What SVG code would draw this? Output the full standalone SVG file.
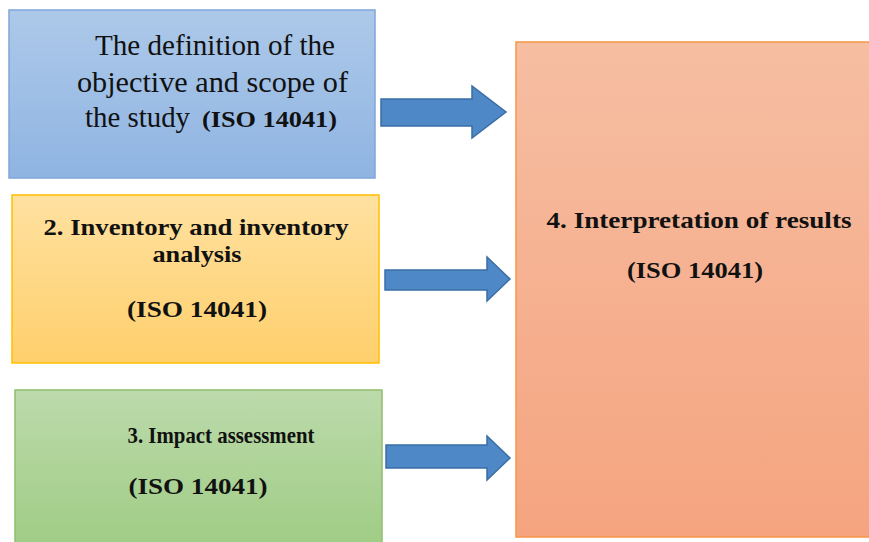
<svg xmlns="http://www.w3.org/2000/svg" width="869" height="542" viewBox="0 0 869 542">
<style>
.r{font-size:29px}
.b{font-size:24px;font-weight:bold}
.arrow{fill:#4f88c6;stroke:#3a6ea5;stroke-width:1.5}
</style>
<defs>
<linearGradient id="gBlue" x1="0" y1="0" x2="0" y2="1"><stop offset="0" stop-color="#adc9e9"/><stop offset="1" stop-color="#8fb4e2"/></linearGradient>
<linearGradient id="gYel" x1="0" y1="0" x2="0" y2="1"><stop offset="0" stop-color="#ffe1a0"/><stop offset="1" stop-color="#ffcf6c"/></linearGradient>
<linearGradient id="gGrn" x1="0" y1="0" x2="0" y2="1"><stop offset="0" stop-color="#bcdaab"/><stop offset="1" stop-color="#9fcc84"/></linearGradient>
<linearGradient id="gOr" x1="0" y1="0" x2="0" y2="1"><stop offset="0" stop-color="#f6bea2"/><stop offset="1" stop-color="#f5a47f"/></linearGradient>
</defs>
<rect width="869" height="542" fill="#fff"/>
<g font-family="Liberation Serif, Times New Roman, serif" fill="#111" text-anchor="middle">
<g id="node1">
<rect x="9" y="10" width="366" height="168" fill="url(#gBlue)" stroke="#7fa6d8" stroke-width="1.5"/>
<text class="r" x="215" y="55" textLength="240" lengthAdjust="spacingAndGlyphs">The definition of the</text>
<text class="r" x="212.5" y="92" textLength="271" lengthAdjust="spacingAndGlyphs">objective and scope of</text>
<text class="r" x="85" y="127" text-anchor="start" textLength="105" lengthAdjust="spacingAndGlyphs">the study</text>
<text class="b" x="202" y="127" text-anchor="start" textLength="135" lengthAdjust="spacingAndGlyphs">(ISO 14041)</text>
</g>
<g id="node2">
<rect x="12" y="195" width="367" height="168" fill="url(#gYel)" stroke="#ffc000" stroke-width="1.5"/>
<text class="b" x="196" y="235" textLength="305" lengthAdjust="spacingAndGlyphs">2. Inventory and inventory</text>
<text class="b" x="197" y="262" textLength="89" lengthAdjust="spacingAndGlyphs">analysis</text>
<text class="b" x="197" y="317" textLength="140" lengthAdjust="spacingAndGlyphs">(ISO 14041)</text>
</g>
<g id="node3">
<rect x="15" y="390" width="367" height="160" fill="url(#gGrn)" stroke="#8fbf6c" stroke-width="1.5"/>
<text class="b" x="221" y="443" textLength="187" lengthAdjust="spacingAndGlyphs">3. Impact assessment</text>
<text class="b" x="198" y="494" textLength="139" lengthAdjust="spacingAndGlyphs">(ISO 14041)</text>
</g>
<g id="node4">
<rect x="516" y="42" width="360" height="495" fill="url(#gOr)" stroke="#f79646" stroke-width="1.5"/>
<text class="b" x="699" y="228" textLength="305" lengthAdjust="spacingAndGlyphs">4. Interpretation of results</text>
<text class="b" x="695" y="278" textLength="136" lengthAdjust="spacingAndGlyphs">(ISO 14041)</text>
</g>
</g>
<g id="connectors">
<polygon class="arrow" points="381,99 472,99 472,86 506,112 472,138 472,126 381,126"/>
<polygon class="arrow" points="385,270 487,270 487,257 510,279 487,301 487,290 385,290"/>
<polygon class="arrow" points="386,445 487,445 487,436 510,458 487,480 487,468 386,468"/>
</g>
</svg>
